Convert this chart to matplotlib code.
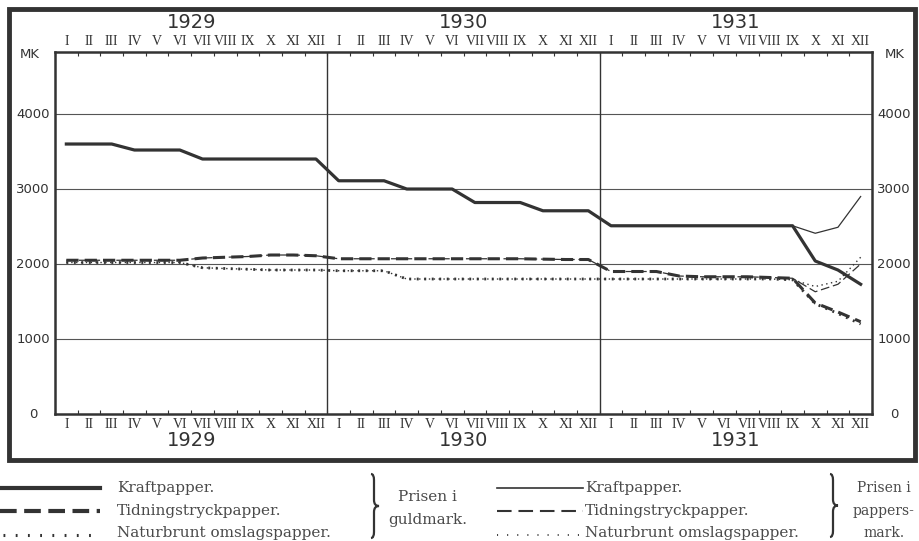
import numpy as np
import matplotlib.pyplot as plt
from matplotlib.patches import Rectangle, PathPatch
from matplotlib.path import Path
from matplotlib.transforms import blended_transform_factory

# --- data (Mk per month, I 1929 .. XII 1931) ---
years = ["1929", "1930", "1931"]
months = ["I", "II", "III", "IV", "V", "VI", "VII", "VIII", "IX", "X", "XI", "XII"]
y_ticks = [0, 1000, 2000, 3000, 4000]

# price in gold marks
kraft_guld = [3600, 3600, 3600, 3520, 3520, 3520, 3400, 3400, 3400, 3400, 3400, 3400,
              3110, 3110, 3110, 3000, 3000, 3000, 2820, 2820, 2820, 2710, 2710, 2710,
              2510, 2510, 2510, 2510, 2510, 2510, 2510, 2510, 2510, 2040, 1920, 1730]
tidning_guld = [2050, 2050, 2050, 2050, 2050, 2050, 2080, 2090, 2100, 2120, 2120, 2110,
                2070, 2070, 2070, 2070, 2070, 2070, 2070, 2070, 2070, 2065, 2060, 2060,
                1900, 1900, 1900, 1840, 1830, 1830, 1830, 1820, 1810, 1480, 1360, 1230]
natur_guld = [2020, 2020, 2020, 2020, 2020, 2020, 1950, 1940, 1930, 1920, 1920, 1920,
              1910, 1910, 1910, 1800, 1800, 1800, 1800, 1800, 1800, 1800, 1800, 1800,
              1800, 1800, 1800, 1800, 1800, 1800, 1800, 1800, 1790, 1470, 1340, 1200]

# price in paper marks
kraft_papper = kraft_guld[:33] + [2410, 2490, 2900]
tidning_papper = tidning_guld[:33] + [1630, 1730, 2000]
natur_papper = natur_guld[:33] + [1700, 1770, 2090]

ink = "#333333"
W, H = 919, 541
roman = ["Liberation Serif", "DejaVu Serif"]
sans = ["DejaVu Sans"]


def fx(px):
    return px / W


def fy(py):
    return 1 - py / H


fig = plt.figure(figsize=(W / 100, H / 100), dpi=100)
fig.patch.set_facecolor("white")

ax = fig.add_axes([fx(55), fy(414), (872 - 55) / W, (414 - 52) / H])
x = np.arange(36) + 0.5

ax.plot(x, kraft_guld, color=ink, lw=2.3)
ax.plot(x, tidning_guld, color=ink, lw=2.2, linestyle=(0, (4, 2)))
ax.plot(x, natur_guld, color=ink, lw=2.0, linestyle=(0, (0.7, 2.0)))
ax.plot(x, kraft_papper, color=ink, lw=0.9)
ax.plot(x, tidning_papper, color=ink, lw=0.9, linestyle=(0, (7, 3)))
ax.plot(x, natur_papper, color=ink, lw=1.0, linestyle=(0, (1, 2.5)))

ax.set_xlim(0, 36)
ax.set_ylim(0, 4827)

for v in y_ticks[1:]:
    ax.axhline(v, color="#555555", lw=0.8, zorder=0)
for v in [12, 24]:
    ax.axvline(v, color=ink, lw=1.0, zorder=0)

for s in ax.spines.values():
    s.set_linewidth(1.8)
    s.set_color(ink)

# month ticks and labels
ax.set_xticks(np.arange(0, 37))
ax.set_xticklabels([])
ax.set_xticks(x, months * 3, minor=True)
ax.tick_params(which="major", direction="in", length=3, width=0.8, color=ink,
               top=True, bottom=True)
ax.tick_params(which="minor", length=0, top=True, bottom=True,
               labeltop=True, labelbottom=True, pad=3, labelsize=10,
               labelcolor=ink)
for lab in ax.get_xticklabels(minor=True):
    lab.set_family(roman)
ax.set_yticks([])

# y labels both sides
ty = blended_transform_factory(ax.transAxes, ax.transData)
for v in y_ticks:
    ax.text(-0.027, v, str(v), transform=ty, ha="center", va="center",
            fontsize=9.5, color=ink, family=sans)
    ax.text(1.027, v, str(v), transform=ty, ha="center", va="center",
            fontsize=9.5, color=ink, family=sans)
fig.text(fx(30), fy(55), "MK", ha="center", va="center", fontsize=9.5, color=ink, family=sans)
fig.text(fx(895), fy(55), "MK", ha="center", va="center", fontsize=9.5, color=ink, family=sans)

# years top and bottom
tx = blended_transform_factory(ax.transData, fig.transFigure)
for i, yr in enumerate(years):
    for py in [22, 441]:
        ax.text(i * 12 + 6, fy(py), yr, transform=tx, ha="center", va="center",
                fontsize=14, color=ink, family=sans)

# outer frame
fig.patches.append(Rectangle((fx(9), fy(460)), (915 - 9) / W, (460 - 9) / H,
                             transform=fig.transFigure, fill=False, lw=3.5,
                             edgecolor=ink))

# --- legend drawn in pixel coordinates ---
lg = fig.add_axes([0, 0, 1, 1])
lg.set_xlim(0, W)
lg.set_ylim(H, 0)
lg.axis("off")
lg.patch.set_alpha(0)

legend_names = ["Kraftpapper.", "Tidningstryckpapper.", "Naturbrunt omslagspapper."]
rows = [488, 511, 533]
text_col = "#4a4a4a"
serif = ["DejaVu Serif"]

lg.plot([0, 100], [rows[0]] * 2, color=ink, lw=3)
lg.plot([0, 100], [rows[1]] * 2, color=ink, lw=3, linestyle=(0, (4, 1.8)))
lg.plot([3, 100], [rows[2] + 2] * 2, color=ink, lw=2.2, linestyle=(0, (0.6, 3.4)))
lg.plot([497, 583], [rows[0]] * 2, color=ink, lw=1.2)
lg.plot([497, 583], [rows[1]] * 2, color=ink, lw=1.5, linestyle=(0, (7, 3.3)))
lg.plot([497, 583], [rows[2] + 2] * 2, color=ink, lw=1.3, linestyle=(0, (0.6, 5)))

for r, name in zip(rows, legend_names):
    lg.text(117, r, name, ha="left", va="center", fontsize=11, color=text_col, family=serif)
    lg.text(585, r, name, ha="left", va="center", fontsize=11, color=text_col, family=serif)


def brace(x0, y0, y1, w=5):
    ym = (y0 + y1) / 2
    verts = [(x0 - 3, y0), (x0, y0), (x0, y0 + 6),
             (x0, ym - 6), (x0, ym), (x0 + w, ym),
             (x0, ym), (x0, ym + 6),
             (x0, y1 - 6), (x0, y1), (x0 - 3, y1)]
    codes = [Path.MOVETO, Path.CURVE3, Path.CURVE3,
             Path.LINETO, Path.CURVE3, Path.CURVE3,
             Path.CURVE3, Path.CURVE3,
             Path.LINETO, Path.CURVE3, Path.CURVE3]
    lg.add_patch(PathPatch(Path(verts, codes), fill=False, lw=1.6, edgecolor=ink))


brace(374, 474, 538)
brace(833, 474, 537)

lg.text(427, 497, "Prisen i", ha="center", va="center", fontsize=11, color=text_col, family=serif)
lg.text(428, 520, "guldmark.", ha="center", va="center", fontsize=11, color=text_col, family=serif)
lg.text(884, 488, "Prisen i", ha="center", va="center", fontsize=10, color=text_col, family=serif)
lg.text(884, 511, "pappers-", ha="center", va="center", fontsize=10, color=text_col, family=serif)
lg.text(884, 533, "mark.", ha="center", va="center", fontsize=10, color=text_col, family=serif)

fig.savefig("out.png", dpi=100, facecolor="white")
